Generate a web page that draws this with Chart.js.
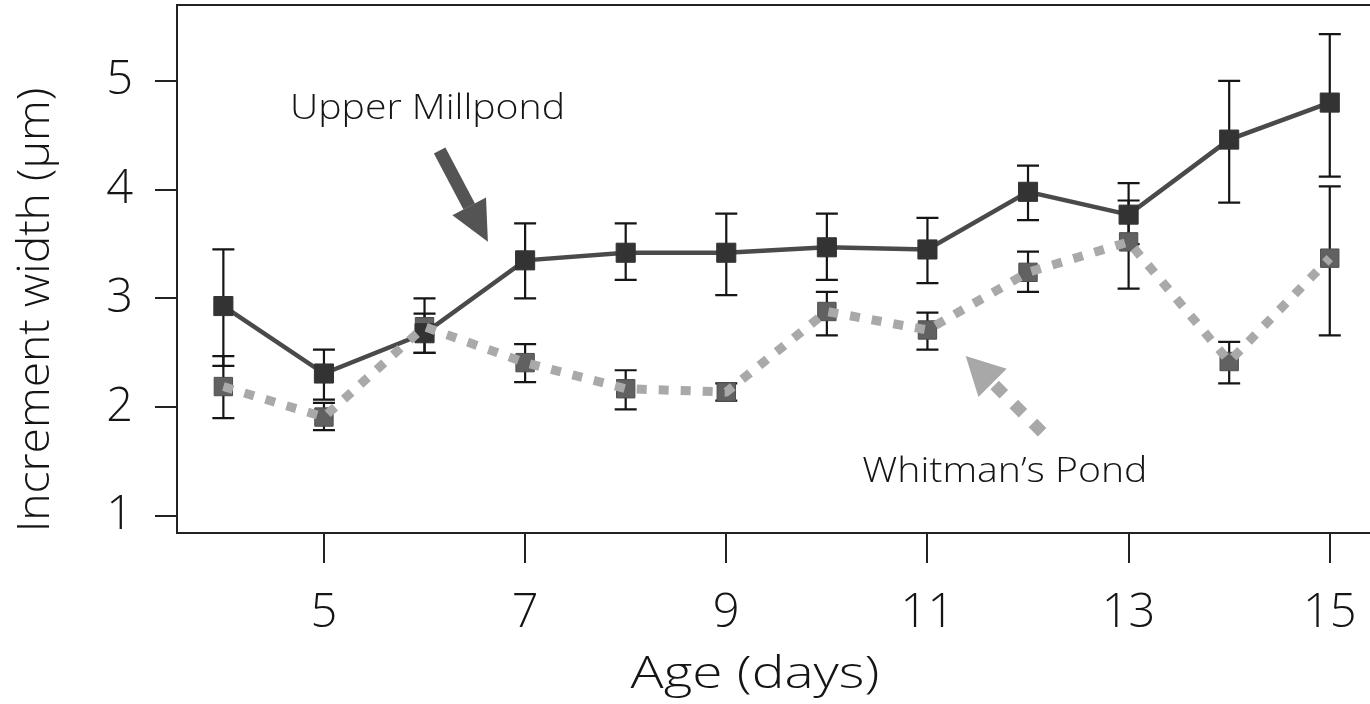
<!DOCTYPE html>
<html>
<head>
<meta charset="utf-8">
<script src="https://cdn.jsdelivr.net/npm/chart.js@4/dist/chart.umd.min.js"></script>
<style>
  html, body { margin: 0; padding: 0; background: #fff; }
  #wrap { width: 1370px; height: 704px; }
</style>
</head>
<body>
<div id="wrap"><canvas id="growthChart"></canvas></div>
<script>
// ---- data ----
const ages = [4, 5, 6, 7, 8, 9, 10, 11, 12, 13, 14, 15];

// Upper Millpond: mean, upper and lower end of the error bar
const upperMean = [2.93, 2.31, 2.68, 3.35, 3.42, 3.42, 3.47, 3.45, 3.98, 3.77, 4.46, 4.80];
const upperHi   = [3.45, 2.53, 3.00, 3.69, 3.69, 3.78, 3.78, 3.74, 4.22, 4.06, 5.00, 5.43];
const upperLo   = [2.38, 2.07, 2.50, 3.00, 3.17, 3.03, 3.17, 3.14, 3.72, 3.50, 3.88, 4.12];

// Whitman's Pond
const whitMean = [2.19, 1.91, 2.74, 2.41, 2.17, 2.14, 2.88, 2.71, 3.24, 3.52, 2.42, 3.37];
const whitHi   = [2.47, 2.04, 2.86, 2.58, 2.34, 2.22, 3.06, 2.87, 3.43, 3.90, 2.60, 4.03];
const whitLo   = [1.90, 1.79, 2.50, 2.23, 1.98, 2.06, 2.66, 2.53, 3.06, 3.09, 2.22, 2.66];

const xTicks = [5, 7, 9, 11, 13, 15];
const yTicks = [1, 2, 3, 4, 5];

const xTitle = 'Age (days)';
const yTitle = 'Increment width (\u00b5m)';

const FONT = '"Open Sans", Lato, "DejaVu Sans", sans-serif';
const INK = '#151515';

const pts = (ys) => ages.map((a, i) => ({ x: a, y: ys[i] }));

// error bars, drawn under the markers
const errorBars = {
    id: 'errorBars',
    beforeDatasetsDraw(chart) {
        const { ctx, scales: { x, y } } = chart;
        ctx.save();
        ctx.strokeStyle = INK;
        ctx.lineWidth = 2.2;
        [[upperHi, upperLo], [whitHi, whitLo]].forEach(([hi, lo]) => {
            ages.forEach((a, i) => {
                const px = x.getPixelForValue(a);
                const t = y.getPixelForValue(hi[i]);
                const b = y.getPixelForValue(lo[i]);
                ctx.beginPath();
                ctx.moveTo(px, t); ctx.lineTo(px, b);
                ctx.moveTo(px - 11, t); ctx.lineTo(px + 11, t);
                ctx.moveTo(px - 11, b); ctx.lineTo(px + 11, b);
                ctx.stroke();
            });
        });
        ctx.restore();
    }
};

// text with a little horizontal stretch (the original face is wide)
function wideText(ctx, text, x, y, size, stretch, rot) {
    ctx.save();
    ctx.translate(x, y);
    if (rot) ctx.rotate(rot);
    ctx.scale(stretch, 1);
    ctx.font = '300 ' + size + 'px ' + FONT;
    ctx.fillStyle = INK;
    ctx.textAlign = 'center';
    ctx.textBaseline = 'alphabetic';
    ctx.fillText(text, 0, 0);
    ctx.restore();
}

// arrow helper
function drawArrow(ctx, x0, y0, x1, y1, color, width, headLen, headW, dash) {
    const ang = Math.atan2(y1 - y0, x1 - x0);
    const bx = x1 - headLen * Math.cos(ang);
    const by = y1 - headLen * Math.sin(ang);
    ctx.save();
    ctx.strokeStyle = color;
    ctx.fillStyle = color;
    ctx.lineWidth = width;
    ctx.lineCap = 'butt';
    ctx.setLineDash(dash || []);
    ctx.beginPath();
    ctx.moveTo(x0, y0);
    ctx.lineTo(bx, by);
    ctx.stroke();
    ctx.setLineDash([]);
    ctx.beginPath();
    ctx.moveTo(x1, y1);
    ctx.lineTo(bx + headW / 2 * Math.sin(ang), by - headW / 2 * Math.cos(ang));
    ctx.lineTo(bx - headW / 2 * Math.sin(ang), by + headW / 2 * Math.cos(ang));
    ctx.closePath();
    ctx.fill();
    ctx.restore();
}

// frame top line, titles, labels and arrows
const annotations = {
    id: 'annotations',
    afterDraw(chart) {
        const { ctx, chartArea: area, scales: { x, y } } = chart;
        ctx.save();
        ctx.strokeStyle = '#222';
        ctx.lineWidth = 2;
        ctx.beginPath();
        ctx.moveTo(area.left, area.top);
        ctx.lineTo(area.right, area.top);
        ctx.stroke();
        ctx.restore();

        // axis titles
        wideText(ctx, xTitle, 755, 688, 44, 1.25, 0);
        wideText(ctx, yTitle, 49, 310, 44, 1.05, -Math.PI / 2);

        // series labels (data units)
        wideText(ctx, 'Upper Millpond', x.getPixelForValue(6.03), y.getPixelForValue(4.65), 35, 1.12, 0);
        wideText(ctx, 'Whitman\u2019s Pond', x.getPixelForValue(11.77), y.getPixelForValue(1.31), 35, 1.12, 0);

        drawArrow(ctx,
            x.getPixelForValue(6.15), y.getPixelForValue(4.36),
            x.getPixelForValue(6.63), y.getPixelForValue(3.52),
            '#545454', 13, 40, 38);
        drawArrow(ctx,
            x.getPixelForValue(12.14), y.getPixelForValue(1.77),
            x.getPixelForValue(11.38), y.getPixelForValue(2.47),
            '#a8a8a8', 12, 38, 40, [13, 14]);
    }
};

const axisGrid = (len) => ({
    display: true,
    drawOnChartArea: false,
    drawTicks: true,
    tickLength: len,
    color: '#222',
    lineWidth: 2
});

new Chart(document.getElementById('growthChart'), {
    type: 'line',
    data: {
        datasets: [
            {
                label: 'Whitman\u2019s Pond line',
                data: pts(whitMean),
                borderColor: '#a9a9a9',
                borderWidth: 9,
                borderDash: [10, 12],
                pointRadius: 0,
                order: 1
            },
            {
                label: 'Upper Millpond',
                data: pts(upperMean),
                borderColor: '#4a4a4a',
                borderWidth: 4.5,
                pointStyle: 'rect',
                pointRadius: 13.5,
                pointBackgroundColor: '#333',
                pointBorderColor: '#333',
                pointBorderWidth: 1,
                order: 2
            },
            {
                label: 'Whitman\u2019s Pond',
                data: pts(whitMean),
                showLine: false,
                pointStyle: 'rect',
                pointRadius: 13,
                pointBackgroundColor: '#616161',
                pointBorderColor: '#4e4e4e',
                pointBorderWidth: 1,
                order: 3
            }
        ]
    },
    options: {
        responsive: true,
        maintainAspectRatio: false,
        animation: false,
        layout: { autoPadding: false, padding: { top: 5, right: 0, bottom: 0, left: 0 } },
        plugins: {
            legend: { display: false },
            tooltip: { enabled: false }
        },
        scales: {
            x: {
                type: 'linear',
                min: 3.539,
                max: 15.40,
                afterBuildTicks: (s) => { s.ticks = xTicks.map(v => ({ value: v })); },
                afterFit: (s) => { s.height = 171; s.paddingLeft = 0; s.paddingRight = 0; },
                grid: axisGrid(30),
                border: { display: true, color: '#222', width: 2 },
                ticks: {
                    color: INK,
                    padding: 22,
                    maxRotation: 0,
                    font: { family: FONT, size: 47, weight: 300 }
                },
                title: { display: false }
            },
            y: {
                type: 'linear',
                min: 0.844,
                max: 5.697,
                afterBuildTicks: (s) => { s.ticks = yTicks.map(v => ({ value: v })); },
                afterFit: (s) => { s.width = 177; s.paddingTop = 0; s.paddingBottom = 0; },
                grid: axisGrid(22),
                border: { display: true, color: '#222', width: 2 },
                ticks: {
                    color: INK,
                    padding: 22,
                    font: { family: FONT, size: 47, weight: 300 }
                },
                title: { display: false }
            }
        }
    },
    plugins: [errorBars, annotations]
});
</script>
</body>
</html>
